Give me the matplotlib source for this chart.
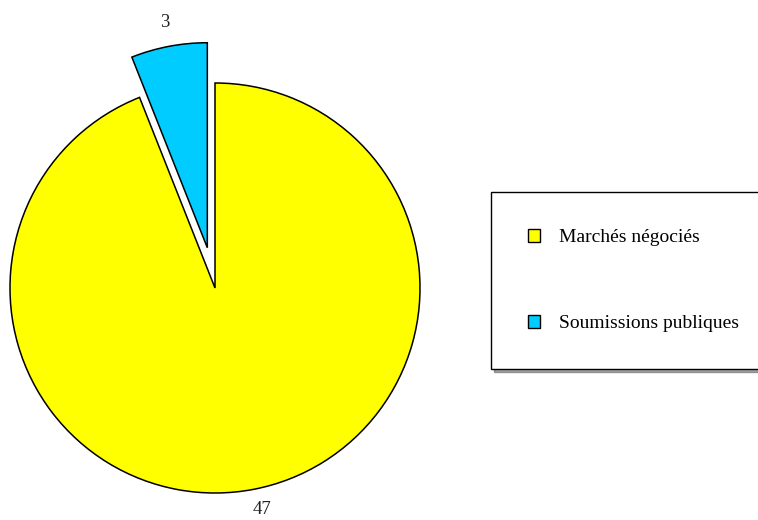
import matplotlib.pyplot as plt

categories = ['Marchés négociés', 'Soumissions publiques']
values = [47, 3]
colors = ['#FFFF00', '#00CCFF']
explode = [0, 0.2]

plt.rcParams['font.family'] = ['Liberation Serif', 'DejaVu Serif']

fig = plt.figure(figsize=(7.58, 5.20), dpi=100)
ax = fig.add_axes([0, 0, 1, 1])

wedges, texts = ax.pie(values, labels=[str(v) for v in values], colors=colors,
                       explode=explode, startangle=90, counterclock=False,
                       labeldistance=1.12, radius=1,
                       wedgeprops=dict(edgecolor='black', linewidth=1.1),
                       textprops=dict(fontsize=13.5, color='#222222'))
for t in texts:
    t.set_ha('center')
    t.set_va('center')
# nudge the big label up a little so it stays inside the figure
x47, y47 = texts[0].get_position()
texts[0].set_position((x47 + 0.02, y47 + 0.02))

# pixel mapping: centre at (215, 288), radius 205 px
r = 205.0
ax.set_xlim(-215 / r, (758 - 215) / r)
ax.set_ylim(-(520 - 288) / r, 288 / r)
ax.set_aspect('auto')
ax.axis('off')

leg = ax.legend(wedges, categories, loc='upper left',
                bbox_to_anchor=(491 / 758, 1 - 192 / 520),
                bbox_transform=fig.transFigure,
                fontsize=14, frameon=True, fancybox=False, shadow=True,
                edgecolor='black', borderpad=1.9, labelspacing=3.55,
                handlelength=0.62, handleheight=0.62, handletextpad=1.0,
                borderaxespad=0)
leg.get_frame().set_linewidth(1.0)
for h in leg.legend_handles:
    h.set_linewidth(1.0)

fig.savefig('out.png', dpi=100)
